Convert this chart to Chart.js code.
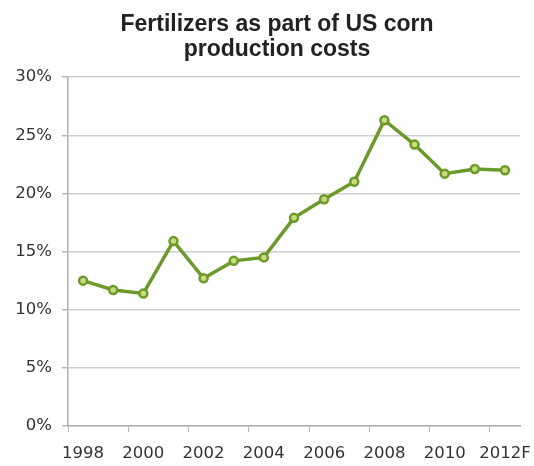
<!DOCTYPE html>
<html>
<head>
<meta charset="utf-8">
<script src="https://cdn.jsdelivr.net/npm/chart.js@4"></script>
<style>
  html, body { margin: 0; padding: 0; background: #fff; }
  #wrap { width: 534px; height: 466px; }
</style>
</head>
<body>
<div id="wrap"><canvas id="fertChart" width="534" height="466"></canvas></div>
<script>
// Chart data
const years = ['1998', '1999', '2000', '2001', '2002', '2003', '2004', '2005',
               '2006', '2007', '2008', '2009', '2010', '2011', '2012F'];
const fertilizerShare = [12.5, 11.7, 11.4, 15.9, 12.7, 14.2, 14.5, 17.9,
                         19.5, 21.0, 26.3, 24.2, 21.7, 22.1, 22.0];
const yTicks = [0, 5, 10, 15, 20, 25, 30];

const lineGreen = '#6b9a2b';
const pointFill = '#c9dc7a';
const gridGray = '#cfcfcf';
const textGray = '#333333';
const tickFont = { family: 'DejaVu Sans, Verdana, sans-serif', size: 16.5 };

// the title in the original sits a bit right of the canvas centre
const shiftTitle = {
    id: 'shiftTitle',
    afterLayout(chart) {
        if (chart.titleBlock) {
            chart.titleBlock.left += 10;
            chart.titleBlock.right += 10;
        }
    }
};

const ctx = document.getElementById('fertChart').getContext('2d');
const fertChart = new Chart(ctx, {
    type: 'line',
    data: {
        labels: years,
        datasets: [{
            label: 'Fertilizers share',
            data: fertilizerShare,
            borderColor: lineGreen,
            borderWidth: 3.5,
            pointRadius: 4,
            pointBorderWidth: 2.5,
            pointBackgroundColor: pointFill,
            pointBorderColor: lineGreen,
            tension: 0
        }]
    },
    plugins: [shiftTitle],
    options: {
        responsive: false,
        animation: false,
        layout: { padding: { left: 14, right: 14, top: 12, bottom: 0 } },
        plugins: {
            legend: { display: false },
            tooltip: { enabled: false },
            title: {
                display: true,
                text: ['Fertilizers as part of US corn', 'production costs'],
                color: '#222',
                font: { family: 'Liberation Sans, Arial, sans-serif', size: 23, weight: 'bold', lineHeight: 1.09 },
                padding: { top: 0, bottom: 15 }
            }
        },
        scales: {
            x: {
                offset: true,
                border: { color: '#b0b0b0', width: 1.5 },
                grid: {
                    offset: true,
                    drawOnChartArea: false,
                    tickLength: 6,
                    tickColor: c => (c.index % 2 === 0 ? '#b8b8b8' : 'rgba(0,0,0,0)')
                },
                afterFit: axis => {
                    axis.height = 40;
                    axis.paddingLeft = 0;
                    axis.paddingRight = 0;
                },
                ticks: {
                    autoSkip: false,
                    maxRotation: 0,
                    color: textGray,
                    padding: 12,
                    font: tickFont,
                    callback: (v, i) => (i % 2 === 0 ? years[i] : '')
                }
            },
            y: {
                min: 0,
                max: 30,
                border: { color: '#b0b0b0', width: 1.5 },
                grid: {
                    color: gridGray,
                    lineWidth: 1.5,
                    tickLength: 6,
                    tickColor: '#b8b8b8'
                },
                afterBuildTicks: axis => { axis.ticks = yTicks.map(v => ({ value: v })); },
                afterFit: axis => { axis.width = 54; },
                ticks: {
                    color: textGray,
                    padding: 10,
                    font: tickFont,
                    callback: v => v + '%'
                }
            }
        }
    }
});
</script>
</body>
</html>
